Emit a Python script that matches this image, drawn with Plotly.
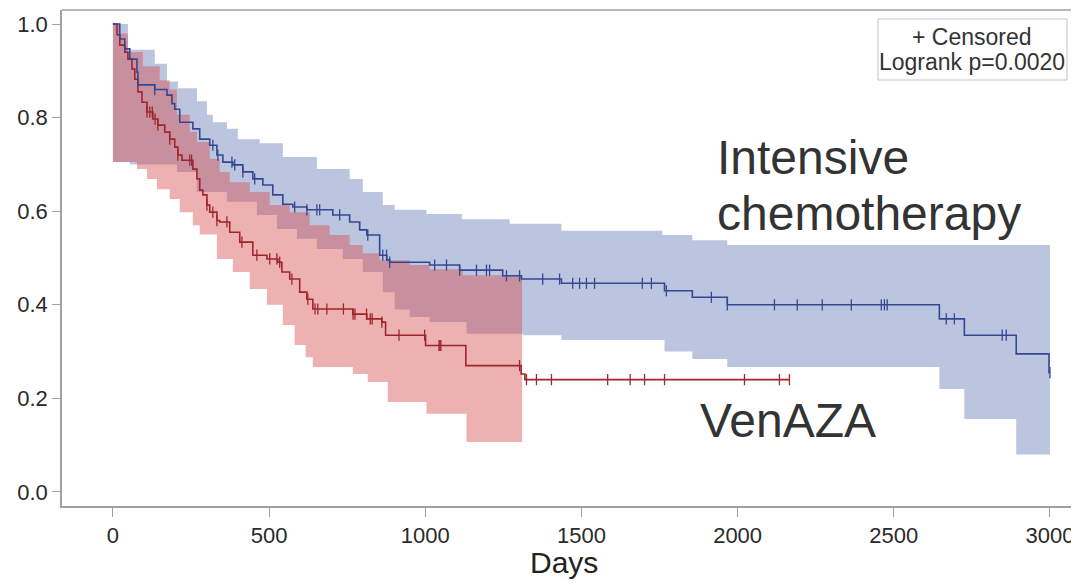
import numpy as np
import plotly.graph_objects as go

# ---------------- data ----------------
# Intensive chemotherapy: Kaplan-Meier step points
ic_days = [0, 22, 38, 54, 77, 80, 134, 173, 189, 198, 214, 256, 278, 310, 333, 352, 384, 416,
           448, 480, 512, 544, 576, 621, 704, 758, 790, 813, 854, 877, 886, 1014, 1110, 1248,
           1308, 1436, 1766, 1855, 1967, 2646, 2726, 2892, 2997, 3000]
ic_surv = [1.0, 0.968, 0.947, 0.925, 0.897, 0.87, 0.86, 0.848, 0.83, 0.818, 0.79, 0.776, 0.754,
           0.741, 0.72, 0.705, 0.699, 0.684, 0.669, 0.656, 0.635, 0.615, 0.609, 0.603, 0.592,
           0.577, 0.56, 0.549, 0.506, 0.496, 0.491, 0.485, 0.474, 0.462, 0.455, 0.446, 0.43,
           0.416, 0.40, 0.37, 0.335, 0.295, 0.255, 0.255]
ic_upper_days = [0, 48, 134, 173, 208, 269, 301, 320, 365, 400, 470, 544, 653, 758, 800, 864,
                 902, 1004, 1117, 1270, 1436, 1759, 1855, 1967, 3000]
ic_upper = [1.0, 0.945, 0.915, 0.877, 0.863, 0.835, 0.806, 0.79, 0.776, 0.754, 0.745, 0.716,
            0.69, 0.669, 0.641, 0.613, 0.603, 0.594, 0.583, 0.573, 0.558, 0.549, 0.538, 0.528,
            0.528]
ic_lower_days = [0, 54, 205, 269, 365, 461, 525, 589, 653, 736, 800, 864, 902, 950, 1014, 1132,
                 1312, 1436, 1766, 1855, 1967, 2646, 2726, 2892, 3000]
ic_lower = [0.705, 0.70, 0.684, 0.641, 0.62, 0.592, 0.562, 0.541, 0.519, 0.498, 0.47, 0.427,
            0.39, 0.374, 0.363, 0.338, 0.335, 0.325, 0.30, 0.284, 0.267, 0.22, 0.156, 0.08, 0.08]
ic_censored = [134, 320, 336, 381, 390, 416, 454, 582, 621, 653, 662, 726, 816, 864, 876, 886,
               1030, 1068, 1110, 1164, 1196, 1206, 1260, 1302, 1376, 1430, 1472, 1494, 1516,
               1542, 1695, 1724, 1772, 1916, 1967, 2118, 2191, 2271, 2364, 2460, 2470, 2479,
               2668, 2694, 2847, 2860, 3000]

# VenAZA: Kaplan-Meier step points
va_days = [0, 13, 22, 38, 48, 61, 70, 80, 93, 109, 128, 144, 166, 182, 198, 208, 221, 256, 269,
           278, 288, 301, 310, 333, 342, 374, 406, 448, 493, 528, 541, 566, 598, 621, 640, 768,
           813, 861, 873, 1001, 1130, 1307, 1319, 2166]
va_surv = [1.0, 0.977, 0.955, 0.94, 0.925, 0.904, 0.882, 0.855, 0.833, 0.812, 0.797, 0.784,
           0.769, 0.754, 0.737, 0.72, 0.709, 0.69, 0.669, 0.645, 0.635, 0.613, 0.598, 0.58,
           0.577, 0.555, 0.534, 0.506, 0.498, 0.491, 0.47, 0.455, 0.427, 0.412, 0.391, 0.38,
           0.37, 0.363, 0.335, 0.313, 0.27, 0.252, 0.24, 0.24]
va_upper_days = [0, 22, 48, 96, 150, 182, 205, 246, 269, 310, 342, 374, 438, 502, 566, 630, 694,
                 758, 800, 854, 950, 1014, 1120, 1310]
va_upper = [1.0, 0.98, 0.94, 0.91, 0.88, 0.86, 0.806, 0.77, 0.748, 0.712, 0.684, 0.662, 0.641,
            0.613, 0.598, 0.57, 0.549, 0.528, 0.51, 0.495, 0.485, 0.476, 0.463, 0.463]
va_lower_days = [0, 77, 109, 141, 182, 214, 256, 278, 333, 384, 438, 493, 544, 582, 617, 640,
                 768, 816, 880, 1004, 1132, 1310]
va_lower = [0.705, 0.69, 0.669, 0.647, 0.626, 0.598, 0.57, 0.55, 0.498, 0.47, 0.434, 0.40,
            0.357, 0.314, 0.288, 0.267, 0.252, 0.235, 0.192, 0.167, 0.107, 0.107]
va_censored = [109, 118, 126, 135, 144, 182, 208, 246, 252, 301, 320, 333, 365, 413, 461, 502,
               525, 534, 573, 624, 647, 656, 685, 738, 769, 775, 812, 824, 830, 861, 916, 998,
               1044, 1047, 1050, 1302, 1324, 1356, 1404, 1584, 1656, 1702, 1766, 2022, 2134,
               2166]

x_ticks = [0, 500, 1000, 1500, 2000, 2500, 3000]
y_ticks = [0.0, 0.2, 0.4, 0.6, 0.8, 1.0]


def km_at(days, surv, t):
    days = np.asarray(days)
    surv = np.asarray(surv)
    idx = np.searchsorted(days, np.asarray(t), side="right") - 1
    return surv[np.clip(idx, 0, len(surv) - 1)]


BLUE_LINE = "rgb(52,72,146)"
RED_LINE = "rgb(158,38,44)"
BLUE_BAND = "rgb(188,197,224)"
RED_BAND = "rgba(216,75,75,0.433)"

fig = go.Figure()

# confidence bands
fig.add_trace(go.Scatter(x=ic_lower_days, y=ic_lower, mode="lines", line=dict(width=0, shape="hv"),
                         hoverinfo="skip", showlegend=False))
fig.add_trace(go.Scatter(x=ic_upper_days, y=ic_upper, mode="lines", line=dict(width=0, shape="hv"),
                         fill="tonexty", fillcolor=BLUE_BAND, hoverinfo="skip", showlegend=False))
fig.add_trace(go.Scatter(x=va_lower_days, y=va_lower, mode="lines", line=dict(width=0, shape="hv"),
                         hoverinfo="skip", showlegend=False))
fig.add_trace(go.Scatter(x=va_upper_days, y=va_upper, mode="lines", line=dict(width=0, shape="hv"),
                         fill="tonexty", fillcolor=RED_BAND, hoverinfo="skip", showlegend=False))

# survival curves
fig.add_trace(go.Scatter(x=va_days, y=va_surv, mode="lines",
                         line=dict(color=RED_LINE, width=1.6, shape="hv"), showlegend=False))
fig.add_trace(go.Scatter(x=ic_days, y=ic_surv, mode="lines",
                         line=dict(color=BLUE_LINE, width=1.6, shape="hv"), showlegend=False))

# censor marks
fig.add_trace(go.Scatter(x=va_censored, y=km_at(va_days, va_surv, va_censored), mode="markers",
                         marker=dict(symbol="line-ns-open", size=8, color=RED_LINE,
                                     line=dict(color=RED_LINE, width=1.3)),
                         showlegend=False))
fig.add_trace(go.Scatter(x=ic_censored, y=km_at(ic_days, ic_surv, ic_censored), mode="markers",
                         marker=dict(symbol="line-ns-open", size=8, color=BLUE_LINE,
                                     line=dict(color=BLUE_LINE, width=1.3)),
                         showlegend=False))

# The page body has an 8px margin, so the figure is laid out 8px smaller/offset.
OFF = 8
W, H = 1079 - OFF, 584 - OFF
L, R, T, B = 62 - OFF, 0, 10 - OFF, 584 - 506
pw, ph = W - L - R, H - T - B


def px(x_page):
    return (x_page - OFF - L) / pw


def py(y_page):
    return (H - B - (y_page - OFF)) / ph


TXT = "#333333"
FONT = "Arial, Liberation Sans"
annotations = [
    dict(text="Intensive", x=px(715), y=py(157), xref="paper", yref="paper",
         xanchor="left", yanchor="middle", showarrow=False,
         font=dict(family=FONT, size=48, color=TXT)),
    dict(text="chemotherapy", x=px(715), y=py(214), xref="paper", yref="paper",
         xanchor="left", yanchor="middle", showarrow=False,
         font=dict(family=FONT, size=48, color=TXT)),
    dict(text="VenAZA", x=px(698), y=py(420), xref="paper", yref="paper",
         xanchor="left", yanchor="middle", showarrow=False,
         font=dict(family=FONT, size=48, color=TXT)),
    dict(text="+ Censored", x=px(972), y=py(37), xref="paper", yref="paper",
         xanchor="center", yanchor="middle", showarrow=False,
         font=dict(family=FONT, size=23, color=TXT)),
    dict(text="Logrank p=0.0020", x=px(972), y=py(62), xref="paper", yref="paper",
         xanchor="center", yanchor="middle", showarrow=False,
         font=dict(family=FONT, size=23, color=TXT)),
    dict(text="Days", x=px(564), y=py(562), xref="paper", yref="paper",
         xanchor="center", yanchor="middle", showarrow=False,
         font=dict(family=FONT, size=30, color="#222222")),
]

shapes = [
    # top frame line
    dict(type="line", xref="paper", yref="paper", x0=0, x1=1, y0=1, y1=1,
         line=dict(color="#a0a0a0", width=1.5)),
    # inset legend box
    dict(type="rect", xref="paper", yref="paper", x0=px(878), x1=px(1067), y0=py(80), y1=py(19),
         line=dict(color="#c4c4c4", width=1), fillcolor="rgba(255,255,255,0)"),
]

fig.update_layout(
    width=W, height=H,
    margin=dict(l=L, r=R, t=T, b=B, autoexpand=False),
    paper_bgcolor="white", plot_bgcolor="white",
    showlegend=False,
    annotations=annotations,
    shapes=shapes,
    font=dict(family=FONT, color=TXT),
)
fig.update_xaxes(range=[-163, 3093], tickvals=x_ticks, ticks="outside", ticklen=9,
                 tickcolor="#a0a0a0", tickwidth=1.3, showline=True, linecolor="#a0a0a0",
                 linewidth=1.5, showgrid=False, zeroline=False, automargin=False,
                 tickfont=dict(size=22, color="#2a2a2a"))
fig.update_yaxes(range=[-0.03, 1.03], tickvals=y_ticks, tickformat=".1f", ticks="outside",
                 ticklen=8, tickcolor="#a0a0a0", tickwidth=1.3, showline=True,
                 linecolor="#a0a0a0", linewidth=1.5, showgrid=False, zeroline=False,
                 automargin=False, tickfont=dict(size=22, color="#2a2a2a"))

fig.write_html("out.html")
